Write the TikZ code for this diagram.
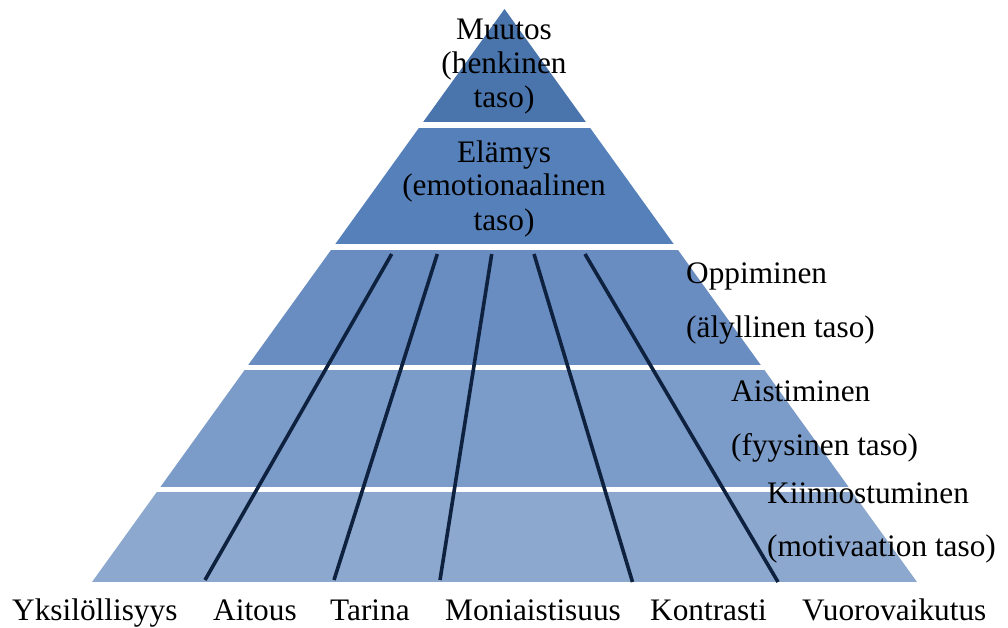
\documentclass[tikz,border=0pt]{standalone}
\usepackage{fontspec}
\setmainfont{Liberation Serif}
\definecolor{lvA}{HTML}{4A74AC}
\definecolor{lvB}{HTML}{5680BA}
\definecolor{lvC}{HTML}{6A8DC1}
\definecolor{lvD}{HTML}{7B9BC8}
\definecolor{lvE}{HTML}{8DA8CE}
\definecolor{strand}{HTML}{0E2240}
\tikzset{
  lbl/.style={inner sep=0pt, font=\fontsize{31.3}{34}\selectfont},
  strandline/.style={draw=strand, line width=3.6pt},
}
\begin{document}
\begin{tikzpicture}[x=1pt,y=-1pt]
\useasboundingbox (0,0) rectangle (1008,628);
% pyramid bands
\begin{scope}
  \clip (504.5,9) -- (917,582) -- (92,582) -- cycle;
  \fill[lvA] (0,0) rectangle (1008,122);
  \fill[lvB] (0,128) rectangle (1008,244);
  \fill[lvC] (0,250) rectangle (1008,365);
  \fill[lvD] (0,370) rectangle (1008,487);
  \fill[lvE] (0,492) rectangle (1008,582);
\end{scope}
% strands
\coordinate (t1) at (391.7,254); \coordinate (b1) at (205,580);
\coordinate (t2) at (437.3,254); \coordinate (b2) at (334,580);
\coordinate (t3) at (491.7,254); \coordinate (b3) at (440,580);
\coordinate (t4) at (534,254);   \coordinate (b4) at (632.5,582);
\coordinate (t5) at (585,254);   \coordinate (b5) at (778,582);
\draw[strandline] (t1) -- (b1);
\draw[strandline] (t2) -- (b2);
\draw[strandline] (t3) -- (b3);
\draw[strandline] (t4) -- (b4);
\draw[strandline] (t5) -- (b5);
% top labels
\node[lbl, anchor=base] (mu1) at (504,40) {Muutos};
\node[lbl, anchor=base] (mu2) at (504,74) {(henkinen};
\node[lbl, anchor=base] (mu3) at (504,108) {taso)};
\node[lbl, anchor=base] (el1) at (504,163) {Elämys};
\node[lbl, anchor=base] (el2) at (504,196) {(emotionaalinen};
\node[lbl, anchor=base] (el3) at (504,230) {taso)};
% right labels
\node[lbl, anchor=base west] (op1) at (686,283) {Oppiminen};
\node[lbl, anchor=base west] (op2) at (686,337) {(älyllinen taso)};
\node[lbl, anchor=base west] (ai1) at (731,401) {Aistiminen};
\node[lbl, anchor=base west] (ai2) at (731,455) {(fyysinen taso)};
\node[lbl, anchor=base west] (ki1) at (767,503) {Kiinnostuminen};
\node[lbl, anchor=base west] (ki2) at (767,556) {(motivaation taso)};
% bottom labels
\node[lbl, anchor=base west] (yk) at (12,620) {Yksilöllisyys};
\node[lbl, anchor=base west] (ait) at (213,620) {Aitous};
\node[lbl, anchor=base west] (tar) at (330,620) {Tarina};
\node[lbl, anchor=base west] (mon) at (445,620) {Moniaistisuus};
\node[lbl, anchor=base west] (kon) at (650,620) {Kontrasti};
\node[lbl, anchor=base west] (vuo) at (802,620) {Vuorovaikutus};
\end{tikzpicture}
\end{document}
